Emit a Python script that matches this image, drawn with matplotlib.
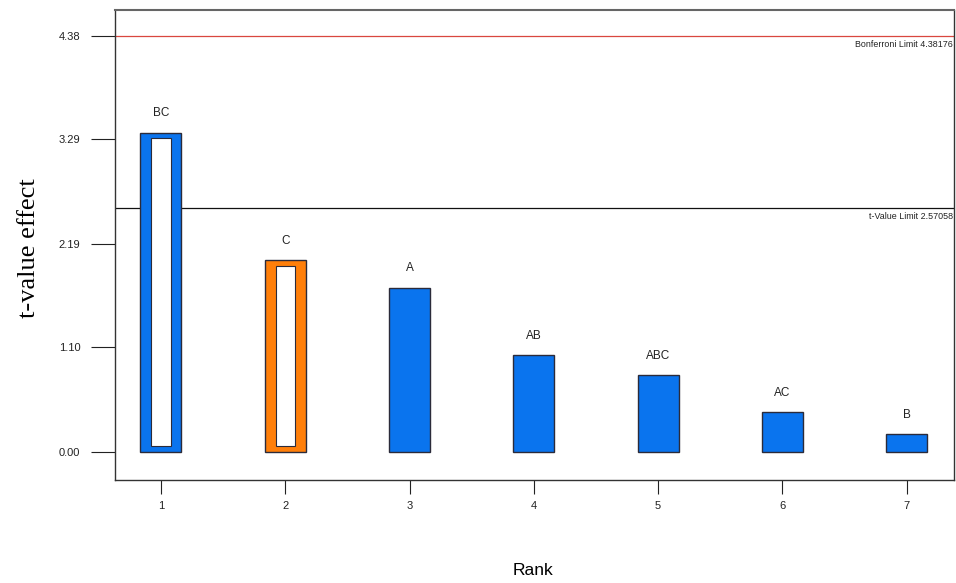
import numpy as np
import matplotlib.pyplot as plt

plt.rcParams["font.family"] = ["Liberation Sans", "DejaVu Sans"]

rank = [1, 2, 3, 4, 5, 6, 7]
terms = ["BC", "C", "A", "AB", "ABC", "AC", "B"]
t_values = [3.36, 2.02, 1.73, 1.02, 0.81, 0.42, 0.19]
positive = [False, False, True, True, True, True, True]
colors = ["#0a74ee", "#ff7f0a", "#0a74ee", "#0a74ee", "#0a74ee", "#0a74ee", "#0a74ee"]

bonferroni = 4.38176
t_limit = 2.57058
yticks = [0.00, 1.10, 2.19, 3.29, 4.38]

fig = plt.figure(figsize=(9.56, 5.83), dpi=100)
ax = fig.add_axes([0.1203, 0.1767, 0.8775, 0.8061])

ax.bar(rank, t_values, width=0.33, color=colors, edgecolor="#2b2b3a", linewidth=1.0, zorder=2)

# hollow bars for negative effects, term names above every bar
for x, v, pos, name in zip(rank, t_values, positive, terms):
    if not pos:
        ax.bar(x, v - 0.12, bottom=0.06, width=0.155, color="white",
               edgecolor="#2b2b3a", linewidth=0.8, zorder=3)
    ax.text(x, v + 0.14, name, ha="center", va="bottom", fontsize=8.5, color="#222222")

ax.axhline(bonferroni, color="#d9473f", linewidth=0.9, zorder=1)
ax.axhline(t_limit, color="#111111", linewidth=0.9, zorder=1)
ax.text(7.37, bonferroni - 0.05, "Bonferroni Limit %.5f" % bonferroni, ha="right", va="top",
        fontsize=6.4, color="#222222")
ax.text(7.37, t_limit - 0.05, "t-Value Limit %.5f" % t_limit, ha="right", va="top",
        fontsize=6.4, color="#222222")

ax.set_xlim(0.63, 7.38)
ax.set_ylim(-0.295, 4.65)
ax.set_xticks(rank)
ax.set_yticks(yticks)
ax.set_yticklabels(["%.2f" % t for t in yticks])
ax.tick_params(axis="y", length=17, width=0.8, labelsize=8, pad=8, colors="#222222")
ax.tick_params(axis="x", length=10, width=0.8, labelsize=8, pad=5, colors="#222222")

for s in ax.spines.values():
    s.set_linewidth(1.0)
    s.set_color("#333333")
ax.spines["top"].set_color("#666666")
ax.spines["top"].set_linewidth(1.5)

fig.text(0.030, 0.575, "t-value effect", fontsize=19, family="Liberation Serif",
         rotation=90, ha="center", va="center")
fig.text(0.558, 0.022, "Rank", fontsize=12.5, ha="center", va="center")

fig.savefig("out.png", dpi=100)
